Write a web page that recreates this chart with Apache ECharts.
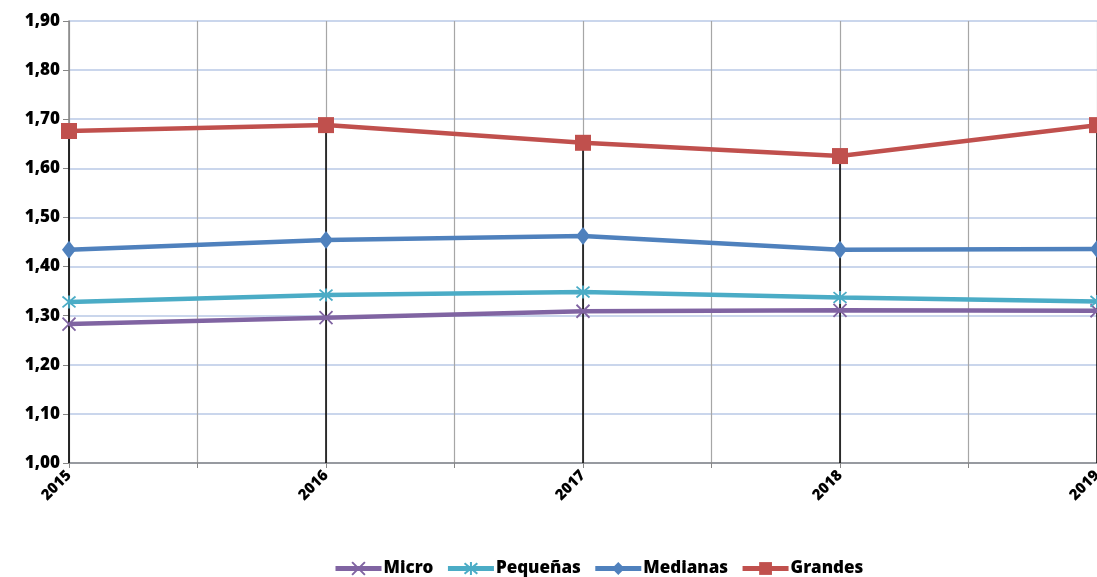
<!DOCTYPE html>
<html>
<head>
<meta charset="utf-8">
<script src="https://cdn.jsdelivr.net/npm/echarts@6/dist/echarts.min.js"></script>
<style>
  html, body { margin: 0; padding: 0; background: #fff; }
  #main { width: 1097px; height: 577px; }
</style>
</head>
<body>
<div id="main"></div>
<script>
// data
var years = [2015, 2016, 2017, 2018, 2019];
var micro = [1.283, 1.296, 1.309, 1.311, 1.310];
var pequenas = [1.328, 1.342, 1.348, 1.337, 1.329];
var medianas = [1.434, 1.454, 1.462, 1.434, 1.436];
var grandes = [1.676, 1.688, 1.652, 1.625, 1.688];

var FONT = 'Open Sans';

function pairs(vals) {
    return years.map(function (y, i) { return [y, vals[i]]; });
}

var crossPath = 'path://M0,0L10,10M10,0L0,10';
var starPath = 'path://M0,0L10,10M10,0L0,10M5,-1L5,11';

// black drop lines from Grandes down to the axis
var dropLines = years.map(function (y, i) {
    return [{ coord: [y, grandes[i]] }, { coord: [y, 1.0] }];
});

var myChart = echarts.init(document.getElementById('main'));

var option = {
    animation: false,
    grid: { left: 69, right: 0, top: 21, bottom: 114, containLabel: false, outerBoundsMode: 'none' },
    xAxis: {
        type: 'value',
        min: 2015, max: 2019, interval: 0.5,
        axisLine: { show: true, lineStyle: { color: '#868686', width: 1.5 } },
        axisTick: { show: true, length: 5, lineStyle: { color: '#868686' } },
        splitLine: { show: true, lineStyle: { color: '#a6a6a6', width: 1.2 } },
        axisLabel: {
            rotate: 45, fontFamily: FONT, fontWeight: 800, fontSize: 15, color: '#000',
            margin: 10, showMaxLabel: true, hideOverlap: false,
            formatter: function (v) { return v % 1 === 0 ? String(v) : ''; }
        }
    },
    yAxis: {
        type: 'value',
        min: 1.0, max: 1.9, interval: 0.1,
        axisLine: { show: true, lineStyle: { color: '#868686', width: 1.5 } },
        axisTick: { show: true, length: 6, lineStyle: { color: '#868686' } },
        splitLine: { show: true, lineStyle: { color: '#b9c9e6', width: 1.5 } },
        axisLabel: {
            fontFamily: FONT, fontWeight: 800, fontSize: 17, color: '#000', margin: 9,
            formatter: function (v) { return v.toFixed(2).replace('.', ','); }
        }
    },
    legend: {
        top: 555,
        left: 328,
        itemWidth: 46, itemHeight: 16, itemGap: 12,
        lineStyle: { width: 5 },
        textStyle: { fontFamily: FONT, fontWeight: 800, fontSize: 17, color: '#000', padding: [0, 0, 0, -3] },
        data: ['Micro', 'Pequeñas', 'Medianas', 'Grandes']
    },
    series: [
        {
            name: 'Micro', type: 'line', data: pairs(micro),
            symbol: crossPath, symbolSize: 13,
            lineStyle: { color: '#8064a2', width: 4.5 },
            itemStyle: { color: 'rgba(0,0,0,0)', borderColor: '#8064a2', borderWidth: 1.8 },
            z: 3
        },
        {
            name: 'Pequeñas', type: 'line', data: pairs(pequenas),
            symbol: starPath, symbolSize: 13,
            lineStyle: { color: '#4bacc6', width: 4.5 },
            itemStyle: { color: 'rgba(0,0,0,0)', borderColor: '#4bacc6', borderWidth: 1.8 },
            z: 3
        },
        {
            name: 'Medianas', type: 'line', data: pairs(medianas),
            symbol: 'diamond', symbolSize: [14, 18],
            lineStyle: { color: '#4f81bd', width: 4.5 },
            itemStyle: { color: '#4f81bd' },
            z: 3
        },
        {
            name: 'Grandes', type: 'line', data: pairs(grandes),
            symbol: 'rect', symbolSize: 16,
            lineStyle: { color: '#c0504d', width: 4.5 },
            itemStyle: { color: '#c0504d' },
            z: 3,
            markLine: {
                silent: true, symbol: 'none', z: 1,
                label: { show: false },
                lineStyle: { color: '#000', width: 1.5, type: 'solid' },
                data: dropLines
            }
        }
    ]
};

myChart.setOption(option);
</script>
</body>
</html>
